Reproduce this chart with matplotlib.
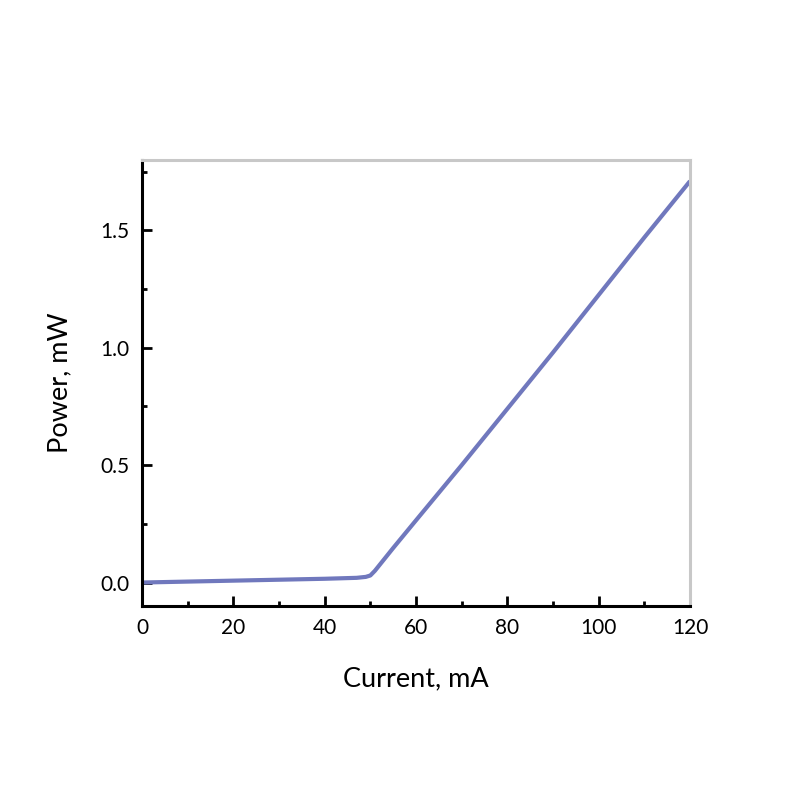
import matplotlib
matplotlib.use("Agg")
import matplotlib.pyplot as plt
from matplotlib.ticker import MultipleLocator

current = [0, 10, 20, 30, 40, 47, 49, 50, 51, 55, 60, 70, 80, 90, 100, 110, 120]
power = [0.000, 0.004, 0.008, 0.012, 0.016, 0.020, 0.024, 0.030, 0.050, 0.147,
         0.265, 0.50, 0.74, 0.98, 1.225, 1.47, 1.71]

plt.rcParams['font.family'] = ['Lato', 'DejaVu Sans']

fig = plt.figure(figsize=(8, 8), dpi=100)
ax = fig.add_axes([0.1775, 0.2425, 0.685, 0.5575])
ax.plot(current, power, color='#7078bd', linewidth=3, solid_capstyle='butt')

ax.set_xlim(0, 120)
ax.set_ylim(-0.1, 1.8)
ax.xaxis.set_major_locator(MultipleLocator(20))
ax.xaxis.set_minor_locator(MultipleLocator(10))
ax.yaxis.set_major_locator(MultipleLocator(0.5))
ax.yaxis.set_minor_locator(MultipleLocator(0.25))
ax.yaxis.set_major_formatter(plt.FormatStrFormatter('%.1f'))

for s in ['left', 'bottom']:
    ax.spines[s].set_color('black')
    ax.spines[s].set_linewidth(2.2)
for s in ['top', 'right']:
    ax.spines[s].set_color('#c8c8c8')
    ax.spines[s].set_linewidth(2.2)

ax.tick_params(which='both', direction='in', top=False, right=False, width=2, labelsize=15, colors='black')
ax.tick_params(which='major', length=7, pad=9)
ax.tick_params(which='minor', length=3.5)

ax.set_xlabel('Current, mA', fontsize=19.5, labelpad=20)
ax.set_ylabel('Power, mW', fontsize=19.5, labelpad=20)

fig.savefig('out.png', dpi=100)
